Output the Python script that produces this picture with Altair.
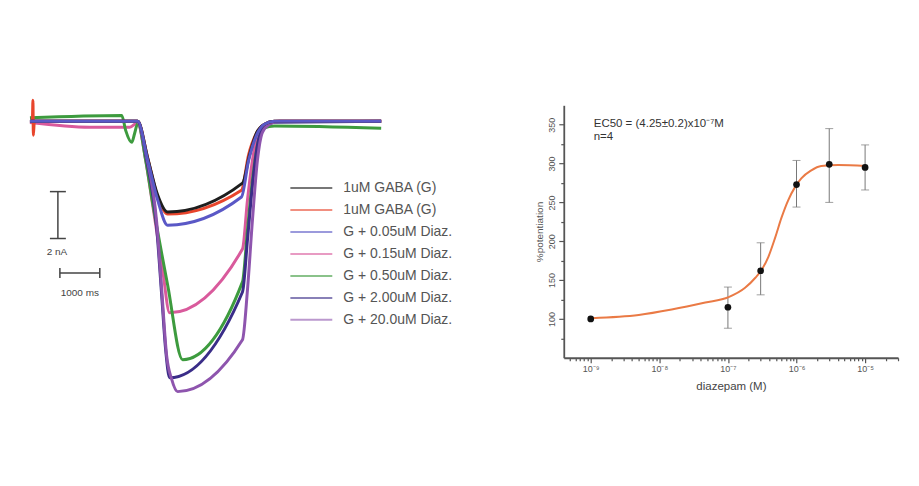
import altair as alt
import numpy as np
import pandas as pd

FONT = "Liberation Sans"

# ---------------- left panel: whole-cell GABA current traces (time ms, current nA) ----------------
series_names = [
    "1uM GABA (G)", "1uM GABA (G) ", "G + 0.05uM Diaz.", "G + 0.15uM Diaz.",
    "G + 0.50uM Diaz.", "G + 2.00uM Diaz.", "G + 20.0uM Diaz.",
]
series_colors = ["#1e1e1e", "#e8452c", "#5a58c6", "#d95a9c", "#3d9b3e", "#3a2d88", "#8e55ae"]

gaba_black_t = [0, 2700, 2950, 3200, 3450, 5325, 5500, 5675, 5875, 6125, 8800]
gaba_black_i = [0, 0, -1.57, -3.15, -3.87, -2.64, -1.45, -0.51, -0.13, 0, 0]

gaba_red_t = [0, 60, 75, 85, 110, 2700, 2950, 3200, 3450, 5300, 5475, 5675, 5875, 6125, 8800]
gaba_red_i = [0, 0, 0.9, -0.6, 0, 0, -1.57, -3.23, -3.96, -2.94, -1.45, -0.51, -0.13, 0, 0]

d005_t = [0, 2700, 2950, 3200, 3450, 5300, 5475, 5675, 5875, 6125, 8800]
d005_i = [0, 0, -1.66, -3.36, -4.43, -3.23, -1.70, -0.60, -0.13, 0, 0]

d015_t = [0, 1500, 2500, 2700, 2900, 3075, 3325, 3500, 5325, 5450, 5575, 5700, 5900, 6200, 8800]
d015_i = [-0.05, -0.25, -0.25, -0.05, -1.66, -3.57, -6.34, -8.17, -5.45, -3.36, -1.66, -0.60, -0.13, 0, 0]

d050_t = [0, 2300, 2400, 2550, 2625, 2700, 2900, 3075, 3450, 3825, 5325, 5450, 5575, 5700, 5850, 6125, 8800]
d050_i = [0.15, 0.25, -0.4, -0.9, -0.5, -0.1, -1.66, -3.49, -6.98, -10.17, -6.85, -4.64, -2.51, -1.02, -0.30, -0.2, -0.3]

d200_t = [0, 2700, 2925, 3175, 3300, 3400, 3500, 5325, 5450, 5575, 5700, 5850, 6125, 8800]
d200_i = [0, 0, -1.66, -4.55, -7.40, -9.74, -10.94, -7.28, -5.06, -2.72, -1.02, -0.30, -0.04, 0]

d2000_t = [0, 2675, 2925, 3175, 3300, 3425, 3550, 3700, 5325, 5450, 5575, 5700, 5825, 6000, 6250, 8800]
d2000_i = [0, 0, -1.53, -4.30, -7.15, -10.0, -11.0, -11.53, -9.32, -7.19, -4.21, -1.66, -0.47, -0.13, 0, 0]

# draw order (bottom to top)
draw = [
    (series_names[3], d015_t, d015_i),
    (series_names[4], d050_t, d050_i),
    (series_names[5], d200_t, d200_i),
    (series_names[6], d2000_t, d2000_i),
    (series_names[1], gaba_red_t, gaba_red_i),
    (series_names[0], gaba_black_t, gaba_black_i),
    (series_names[2], d005_t, d005_i),
]
rows = []
for name, ts, cs in draw:
    for t, c in zip(ts, cs):
        rows.append({"series": name, "t": t, "i": c})
traces = pd.DataFrame(rows)

# scale bars: 2 nA and 1000 ms
vbar_t = [700]
vbar_i = [-3.0, -5.0]
vcap_t = [500, 900]
hbar_t = [750, 1750]
hbar_i = [-6.47]
hcap_i = [-6.26, -6.68]
bar_labels = ["2 nA", "1000 ms"]
bar_label_t = [675, 1250]
bar_label_i = [-5.57, -7.32]

xs_left = alt.Scale(domain=[0, 8800], range=[22, 374], nice=False, zero=False)
ys_left = alt.Scale(domain=[-12, 1], range=[395, 89.5], nice=False, zero=False)

lines = alt.Chart(traces).mark_line(strokeWidth=3, strokeJoin="round", interpolate="monotone").encode(
    x=alt.X("t:Q", scale=xs_left, axis=None),
    y=alt.Y("i:Q", scale=ys_left, axis=None),
    color=alt.Color(
        "series:N",
        scale=alt.Scale(domain=series_names, range=series_colors),
        legend=alt.Legend(
            orient="none", legendX=296, legendY=172, title=None,
            symbolType="M-3,0H3", symbolSize=196, symbolStrokeWidth=2, symbolOpacity=0.6,
            labelFont=FONT, labelFontSize=14, labelColor="#555", labelOffset=24,
            rowPadding=7, padding=0,
        ),
    ),
)

bar_color = "#444"
vbar = alt.Chart(pd.DataFrame({"t": vbar_t, "i1": [vbar_i[0]], "i2": [vbar_i[1]]})).mark_rule(
    color=bar_color, strokeWidth=1.5).encode(
    x=alt.X("t:Q", scale=xs_left, axis=None), y=alt.Y("i1:Q", scale=ys_left, axis=None), y2="i2:Q")
vcaps = alt.Chart(pd.DataFrame({"t1": [vcap_t[0]] * 2, "t2": [vcap_t[1]] * 2, "i": vbar_i})).mark_rule(
    color=bar_color, strokeWidth=1.5).encode(
    x=alt.X("t1:Q", scale=xs_left, axis=None), x2="t2:Q", y=alt.Y("i:Q", scale=ys_left, axis=None))
hbar = alt.Chart(pd.DataFrame({"t1": [hbar_t[0]], "t2": [hbar_t[1]], "i": hbar_i})).mark_rule(
    color=bar_color, strokeWidth=1.5).encode(
    x=alt.X("t1:Q", scale=xs_left, axis=None), x2="t2:Q", y=alt.Y("i:Q", scale=ys_left, axis=None))
hcaps = alt.Chart(pd.DataFrame({"t": hbar_t, "i1": [hcap_i[0]] * 2, "i2": [hcap_i[1]] * 2})).mark_rule(
    color=bar_color, strokeWidth=1.5).encode(
    x=alt.X("t:Q", scale=xs_left, axis=None), y=alt.Y("i1:Q", scale=ys_left, axis=None), y2="i2:Q")
bar_text = alt.Chart(pd.DataFrame({"t": bar_label_t, "i": bar_label_i, "txt": bar_labels})).mark_text(
    font=FONT, fontSize=10, color="#444", align="center", baseline="middle").encode(
    x=alt.X("t:Q", scale=xs_left, axis=None), y=alt.Y("i:Q", scale=ys_left, axis=None), text="txt:N")

left = alt.layer(lines, vbar, vcaps, hbar, hcaps, bar_text)

# ---------------- right panel: concentration-response ----------------
conc_M = [1e-9, 1e-7, 3e-7, 1e-6, 3e-6, 1e-5]
potentiation = [100, 115, 162, 273, 299, 295]
err_conc_M = [1e-7, 3e-7, 1e-6, 3e-6, 1e-5]
err_low = [88, 131, 244, 250, 266]
err_high = [141, 198, 304, 345, 324]

fit_logc = [-8.985, -8.30, -7.82, -7.33, -6.99, -6.75, -6.60, -6.51, -6.41, -6.31,
            -6.22, -6.12, -6.02, -5.93, -5.79, -5.64, -5.39, -4.99]
fit_pot = [101, 105, 112, 121, 128, 140, 153, 163, 180, 205,
           230, 253, 270, 281, 291, 297, 298, 297]

annot_text = ["EC50 = (4.25±0.2)x10⁻⁷M", "n=4"]
annot_logc = [-8.956, -8.956]
annot_pot = [351, 334]

x_major = [-9, -8, -7, -6, -5]
x_major_labels = ["10⁻⁹", "10⁻⁸", "10⁻⁷", "10⁻⁶", "10⁻⁵"]
x_minor = [float(np.log10(k)) + d for d in range(-10, -4) for k in range(2, 10)]
x_minor = [v for v in x_minor if -9.393 <= v <= -4.52]
y_values = list(range(75, 351, 25))

label_expr = " : ".join(
    f"abs(datum.value - ({v})) < 0.001 ? '{lab}'" for v, lab in zip(x_major, x_major_labels)
) + " : ''"

axis_col = "#555"
x_axis = alt.Axis(
    orient="bottom", offset=-120, values=x_major + x_minor, labelExpr=label_expr,
    domainColor=axis_col, domainWidth=1.8, tickColor=axis_col, tickWidth=1.2,
    tickSize={"condition": {"test": "abs(datum.value - round(datum.value)) < 0.001", "value": 5}, "value": 3},
    labelFont=FONT, labelFontSize=9, labelColor="#555", labelPadding=2,
    labelOverlap=False, labelFlush=False, labelBound=False, grid=False,
    title="diazepam (M)", titleFont=FONT, titleFontSize=11.5, titleColor="#444",
    titleFontWeight="normal", titlePadding=7,
)
y_axis = alt.Axis(
    orient="left", offset=-557, values=y_values,
    labelExpr="datum.value % 50 == 0 ? datum.label : ''", labelAngle=270,
    domainColor=axis_col, domainWidth=1.8, tickColor=axis_col, tickWidth=1.2,
    tickSize={"condition": {"test": "datum.value % 50 == 0", "value": 5}, "value": 3},
    labelFont=FONT, labelFontSize=9, labelColor="#555", labelPadding=2,
    labelOverlap=False, labelFlush=False, labelBound=False, grid=False,
    title="%potentiation", titleFont=FONT, titleFontSize=10, titleColor="#555",
    titleFontWeight="normal", titlePadding=3,
)
xs_right = alt.Scale(domain=[-9.393, -4.52], range=[557, 892], nice=False, zero=False)
ys_right = alt.Scale(domain=[50, 375], range=[350, 97], nice=False, zero=False)


def X():
    return alt.X("logc:Q", scale=xs_right, axis=x_axis, title="diazepam (M)")


def Y(field):
    return alt.Y(f"{field}:Q", scale=ys_right, axis=y_axis, title="%potentiation")


pts = pd.DataFrame({"logc": np.log10(conc_M), "pot": potentiation})
err = pd.DataFrame({"logc": np.log10(err_conc_M), "lo": err_low, "hi": err_high})
fit = pd.DataFrame({"logc": fit_logc, "pot": fit_pot})
ann = pd.DataFrame({"logc": annot_logc, "pot": annot_pot, "txt": annot_text})

err_col = "#777"
err_rule = alt.Chart(err).mark_rule(color=err_col, strokeWidth=1).encode(x=X(), y=Y("lo"), y2="hi:Q")
err_lo = alt.Chart(err).mark_tick(orient="horizontal", size=8, thickness=1, color=err_col).encode(x=X(), y=Y("lo"))
err_hi = alt.Chart(err).mark_tick(orient="horizontal", size=8, thickness=1, color=err_col).encode(x=X(), y=Y("hi"))
curve = alt.Chart(fit).mark_line(color="#ea7a45", strokeWidth=2, interpolate="monotone").encode(x=X(), y=Y("pot"))
dots = alt.Chart(pts).mark_circle(size=45, color="#111", opacity=1).encode(x=X(), y=Y("pot"))
notes = alt.Chart(ann).mark_text(font=FONT, fontSize=11.5, color="#333", align="left", baseline="middle").encode(
    x=X(), y=Y("pot"), text="txt:N")

right = alt.layer(err_rule, err_lo, err_hi, curve, dots, notes)

chart = (
    alt.layer(left, right)
    .resolve_scale(x="independent", y="independent")
    .properties(width=905, height=470, padding=0,
                autosize=alt.AutoSizeParams(type="none"), background="white")
    .configure_view(stroke=None)
)

chart.save("out.html", embed_options={"renderer": "svg", "actions": False})
